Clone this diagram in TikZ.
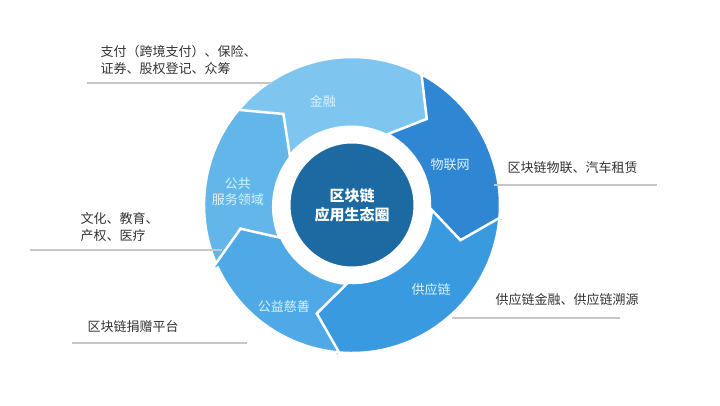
\documentclass[tikz,border=0pt]{standalone}
\usepackage{fontspec}
\newfontfamily\cjk{Noto Sans CJK SC}
\definecolor{cA}{HTML}{7EC6EF}
\definecolor{cB}{HTML}{2F86D2}
\definecolor{cC}{HTML}{3A9AE0}
\definecolor{cD}{HTML}{4EA9E6}
\definecolor{cE}{HTML}{62B6EA}
\definecolor{cM}{HTML}{1D6AA3}
\begin{document}
\begin{tikzpicture}[x=1pt,y=1pt,
  lbl/.style={font=\cjk\fontsize{13}{17}\selectfont,text=black!80,align=left},
  seglbl/.style={font=\cjk\fontsize{13}{16}\selectfont,text=white!85!cyan,align=center},
  uline/.style={draw=black!22,line width=1.2pt},
  seg/.style={draw=white,line width=2.5pt,line join=miter}]
\useasboundingbox[fill=white] (-352,-200) rectangle (368,205);
\def\R{148}\def\r{80}\def\m{114}\def\T{13}
\newcommand\myseg[3]{%
  \fill[#3,seg] (#1:\R) arc[start angle=#1,end angle=#2,radius=\R]
     -- (#2:\R+8) -- ({#2-\T}:\m) -- (#2:\r-2)
     arc[start angle=#2,end angle=#1,radius=\r] -- ({#1-\T}:\m) -- cycle;}
\myseg{-155}{-232}{cE}
\myseg{140}{62}{cA}
\myseg{62}{-5}{cB}
\myseg{-5}{-95}{cC}
\myseg{-95}{-155}{cD}
\node[circle,minimum size=126,fill=cM,draw=white,line width=3pt,
  font=\cjk\bfseries\fontsize{15}{19}\selectfont,text=white,align=center] (c) at (0,0) {区块链\\应用生态圈};
\node[seglbl] (s1) at (-29,103) {金融};
\node[seglbl] (s2) at (98,40) {物联网};
\node[seglbl] (s3) at (79,-85) {供应链};
\node[seglbl] (s4) at (-68,-102) {公益慈善};
\node[seglbl] (s5) at (-114,13) {公共\\服务领域};
\node[lbl,anchor=west] (t1) at (-255,145) {支付（跨境支付）、保险、\\证券、股权登记、众筹};
\coordinate (u1a) at (-265,122); \coordinate (u1b) at (-80,122);
\draw[uline] (u1a) -- (u1b);
\node[lbl,anchor=west] (t2) at (152,37) {区块链物联、汽车租赁};
\coordinate (u2a) at (142,20); \coordinate (u2b) at (305,20);
\draw[uline] (u2a) -- (u2b);
\node[lbl,anchor=west] (t3) at (140,-95) {供应链金融、供应链溯源};
\coordinate (u3a) at (100,-113); \coordinate (u3b) at (268,-113);
\draw[uline] (u3a) -- (u3b);
\node[lbl,anchor=west] (t4) at (-275,-22) {文化、教育、\\产权、医疗};
\coordinate (u4a) at (-322,-45); \coordinate (u4b) at (-130,-45);
\draw[uline] (u4a) -- (u4b);
\node[lbl,anchor=west] (t5) at (-268,-122) {区块链捐赠平台};
\coordinate (u5a) at (-280,-138); \coordinate (u5b) at (-105,-138);
\draw[uline] (u5a) -- (u5b);
\end{tikzpicture}
\end{document}
